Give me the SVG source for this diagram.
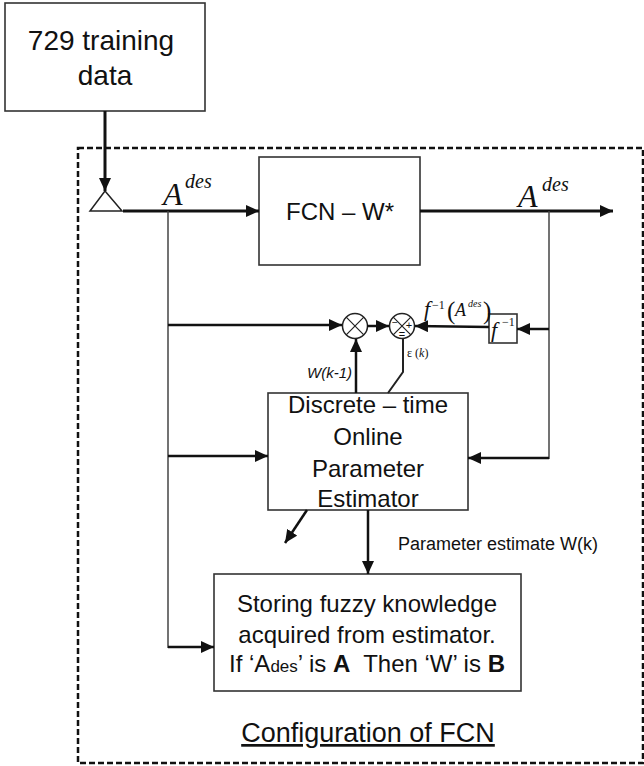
<svg xmlns="http://www.w3.org/2000/svg" width="644" height="766" viewBox="0 0 644 766">
<style>
.box{fill:#fff;stroke:#333;stroke-width:1.6}
.t{font-family:"Liberation Sans",Arial,sans-serif;fill:#111}
.m{font-family:"Liberation Serif","Times New Roman",serif;font-style:italic;fill:#111}
.n{font-family:"Liberation Serif","Times New Roman",serif;fill:#111}
.thick{stroke:#111;stroke-width:3;fill:none}
.thin{stroke:#444;stroke-width:1.5;fill:none}
.mid{stroke:#111;stroke-width:2.5;fill:none}
</style>
<defs>
<marker id="ah" markerUnits="userSpaceOnUse" markerWidth="14" markerHeight="12" refX="13" refY="6" orient="auto">
<path d="M0,0 L13,6 L0,12 Z" fill="#111"/>
</marker>
</defs>
<rect x="78" y="148" width="565" height="615" fill="none" stroke="#111" stroke-width="2.5" stroke-dasharray="6,3"/>
<g id="training">
<rect class="box" x="5" y="3" width="200" height="108"/>
<text class="t" x="101" y="50" font-size="28" text-anchor="middle">729 training</text>
<text class="t" x="105" y="85" font-size="28" text-anchor="middle">data</text>
</g>
<g id="input-triangle">
<path d="M105,191 L90,211 L122,211 Z" fill="#fff" stroke="#222" stroke-width="1.5"/>
</g>
<g id="fcn">
<rect class="box" x="259" y="157" width="161" height="108"/>
<text class="t" x="340" y="220" font-size="24" text-anchor="middle">FCN – W*</text>
</g>
<g id="multiplier">
<circle cx="355" cy="326" r="12.5" fill="#fff" stroke="#222" stroke-width="1.5"/>
<path d="M346.2,317.2 L363.8,334.8 M363.8,317.2 L346.2,334.8" stroke="#222" stroke-width="1.2"/>
</g>
<g id="sum">
<circle cx="402" cy="326" r="12.5" fill="#fff" stroke="#222" stroke-width="1.5"/>
<path d="M393.2,317.2 L410.8,334.8 M410.8,317.2 L393.2,334.8" stroke="#222" stroke-width="1.2"/>
<text class="t" x="395" y="326" font-size="10" text-anchor="middle">−</text>
<text class="t" x="409" y="329" font-size="11" text-anchor="middle">+</text>
<text class="t" x="402" y="338" font-size="11" text-anchor="middle">=</text>
</g>
<g id="finv">
<rect class="box" x="489" y="314" width="28" height="29"/>
<text class="m" x="491" y="337" font-size="22">f</text>
<text class="n" x="502" y="326" font-size="12">−1</text>
</g>
<g id="estimator">
<rect class="box" x="268" y="393" width="200" height="117"/>
<text class="t" x="368" y="413" font-size="24" text-anchor="middle">Discrete – time</text>
<text class="t" x="368" y="445" font-size="24" text-anchor="middle">Online</text>
<text class="t" x="368" y="477" font-size="24" text-anchor="middle">Parameter</text>
<text class="t" x="368" y="507" font-size="24" text-anchor="middle">Estimator</text>
</g>
<g id="storing">
<rect class="box" x="214" y="574" width="307" height="117"/>
<text class="t" x="367" y="612" font-size="24" text-anchor="middle">Storing fuzzy knowledge</text>
<text class="t" x="367" y="643" font-size="24" text-anchor="middle">acquired from estimator.</text>
<text class="t" x="367" y="672" font-size="24" text-anchor="middle" xml:space="preserve">If ‘A<tspan font-size="17">des</tspan>’ is <tspan font-weight="bold">A</tspan>  Then ‘W’ is <tspan font-weight="bold">B</tspan></text>
</g>
<g id="labels">
<text class="m" x="163" y="205" font-size="32">A</text>
<text class="m" x="185" y="188" font-size="20">des</text>
<text class="m" x="518" y="207" font-size="32">A</text>
<text class="m" x="542" y="191" font-size="20">des</text>
<text class="m" x="424" y="316" font-size="22">f</text>
<text class="n" x="432" y="309" font-size="12">−1</text>
<text class="n" x="447" y="319" font-size="25">(</text>
<text class="m" x="455" y="316" font-size="18">A</text>
<text class="m" x="468" y="307" font-size="10">des</text>
<text class="n" x="483" y="319" font-size="25">)</text>
<text class="n" x="407" y="357" font-size="12">ε (<tspan font-style="italic">k</tspan>)</text>
<text class="t" x="307" y="378" font-size="15" font-style="italic">W(k-1)</text>
<text class="t" x="398" y="550" font-size="18">Parameter estimate W(k)</text>
<text class="t" x="368" y="742" font-size="27" text-anchor="middle" text-decoration="underline">Configuration of FCN</text>
</g>
<g id="connectors">
<line class="thick" x1="105" y1="111" x2="105" y2="191" marker-end="url(#ah)"/>
<line class="thick" x1="123" y1="211" x2="259" y2="211" marker-end="url(#ah)"/>
<line class="thick" x1="420" y1="211" x2="613" y2="211" marker-end="url(#ah)"/>
<line class="thin" x1="168" y1="211" x2="168" y2="648"/>
<line class="thin" x1="549" y1="211" x2="549" y2="459"/>
<line class="mid" x1="168" y1="325" x2="342" y2="325" marker-end="url(#ah)"/>
<line class="mid" x1="168" y1="456" x2="268" y2="456" marker-end="url(#ah)"/>
<line class="mid" x1="168" y1="647" x2="214" y2="647" marker-end="url(#ah)"/>
<line class="mid" x1="367" y1="326" x2="389" y2="326" marker-end="url(#ah)"/>
<line class="mid" x1="489" y1="327" x2="415" y2="326" marker-end="url(#ah)"/>
<line class="mid" x1="549" y1="329" x2="517" y2="329" marker-end="url(#ah)"/>
<line class="mid" x1="549" y1="458" x2="468" y2="458" marker-end="url(#ah)"/>
<line class="mid" x1="356" y1="393" x2="356" y2="339" marker-end="url(#ah)"/>
<path d="M403,338.5 L403,372 L388,393" fill="none" stroke="#222" stroke-width="2"/>
<line class="mid" x1="368" y1="510" x2="368" y2="574" marker-end="url(#ah)"/>
<line class="mid" x1="307" y1="510" x2="285" y2="543" marker-end="url(#ah)"/>
</g>
</svg>
